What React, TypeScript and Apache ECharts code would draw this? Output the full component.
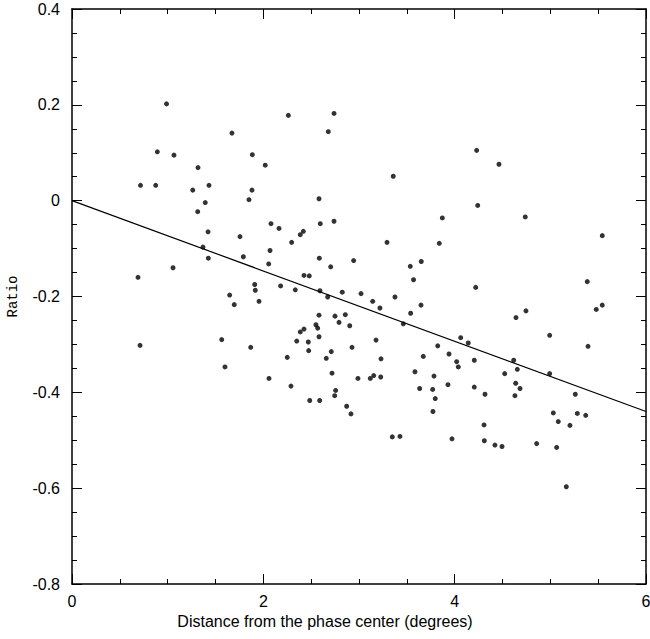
import React, { useEffect, useRef } from "react";
import * as echarts from "echarts";

const distances: number[] = [
  0.988, 1.672, 0.892, 1.066, 1.885, 1.317, 0.716, 0.875, 1.262, 1.432,
  1.881, 1.393, 1.85, 1.314, 1.422, 1.756, 1.369, 1.425, 1.791, 1.056,
  0.69, 1.91, 1.916, 1.648, 1.696, 1.955, 1.565, 0.711, 1.868, 1.599,
  2.261, 2.739, 2.679, 2.02, 3.358, 2.582, 2.08, 2.164, 2.595, 2.739,
  2.386, 2.418, 2.296, 3.293, 2.07, 2.056, 2.585, 2.704, 2.944, 2.425,
  2.48, 4.23, 4.463, 4.241, 3.871, 4.738, 3.839, 5.543, 3.651, 3.536,
  3.57, 2.181, 2.334, 2.592, 2.673, 2.825, 3.021, 3.143, 3.219, 3.376,
  3.54, 3.648, 3.463, 2.582, 2.749, 2.857, 2.791, 2.903, 2.425, 2.386,
  2.55, 2.568, 2.582, 2.47, 2.349, 2.474, 2.71, 2.25, 2.658, 2.927,
  3.178, 3.23, 3.823, 3.672, 2.718, 2.059, 2.289, 2.989, 3.118, 3.154,
  3.227, 3.585, 3.784, 3.634, 3.77, 3.797, 3.773, 2.756, 2.746, 2.485,
  2.589, 2.871, 2.916, 3.348, 3.428, 4.22, 5.386, 5.48, 5.543, 4.641,
  4.745, 4.993, 5.394, 4.063, 4.142, 3.941, 4.021, 4.038, 4.205, 4.617,
  4.655, 4.523, 4.993, 3.93, 4.205, 4.317, 4.638, 4.683, 4.63, 5.261,
  5.031, 5.282, 5.37, 5.083, 5.205, 4.307, 3.972, 4.31, 4.421, 4.495,
  4.857, 5.066, 5.167,
];

const ratios: number[] = [
  0.202, 0.141, 0.102, 0.095, 0.096, 0.069, 0.032, 0.032, 0.022, 0.032,
  0.022, -0.004, 0.002, -0.023, -0.065, -0.075, -0.097, -0.12, -0.117, -0.14,
  -0.16, -0.175, -0.187, -0.197, -0.217, -0.21, -0.29, -0.302, -0.306, -0.347,
  0.178, 0.182, 0.144, 0.074, 0.051, 0.004, -0.048, -0.058, -0.048, -0.043,
  -0.071, -0.064, -0.087, -0.087, -0.104, -0.132, -0.12, -0.138, -0.125, -0.156,
  -0.157, 0.105, 0.076, -0.01, -0.036, -0.034, -0.089, -0.073, -0.127, -0.137,
  -0.165, -0.178, -0.186, -0.188, -0.201, -0.191, -0.194, -0.21, -0.224, -0.201,
  -0.235, -0.218, -0.257, -0.239, -0.241, -0.238, -0.254, -0.261, -0.268, -0.274,
  -0.259, -0.266, -0.284, -0.295, -0.293, -0.313, -0.315, -0.327, -0.329, -0.306,
  -0.291, -0.33, -0.303, -0.325, -0.36, -0.371, -0.387, -0.371, -0.371, -0.365,
  -0.368, -0.357, -0.366, -0.392, -0.394, -0.413, -0.44, -0.396, -0.407, -0.417,
  -0.417, -0.429, -0.445, -0.493, -0.492, -0.181, -0.169, -0.227, -0.218, -0.244,
  -0.23, -0.281, -0.304, -0.286, -0.297, -0.32, -0.336, -0.347, -0.333, -0.333,
  -0.352, -0.361, -0.361, -0.384, -0.389, -0.404, -0.381, -0.392, -0.407, -0.404,
  -0.443, -0.444, -0.448, -0.461, -0.469, -0.468, -0.497, -0.501, -0.51, -0.513,
  -0.507, -0.515, -0.597,
];

const fitX: number[] = [0, 6];
const fitY: number[] = [0, -0.44];

const xTitle = "Distance from the phase center (degrees)";
const yTitle = "Ratio";

export default function App() {
  const ref = useRef<HTMLDivElement>(null);
  useEffect(() => {
    if (!ref.current) return;
    const chart = echarts.init(ref.current, undefined, { renderer: "svg" });
    const font = "'Liberation Sans', Arial, Helvetica, sans-serif";
    const lineStyle = { color: "#000", width: 1.5 };
    const baseX = {
      type: "value" as const,
      min: 0,
      max: 6,
      interval: 2,
      splitLine: { show: false },
      axisLine: { show: true, onZero: false, lineStyle },
      axisTick: { show: true, inside: true, length: 10, lineStyle: { color: "#000", width: 1 } },
      minorTick: { show: true, splitNumber: 4, length: 5, lineStyle: { color: "#000", width: 1 } },
    };
    const baseY = {
      type: "value" as const,
      min: -0.8,
      max: 0.4,
      interval: 0.2,
      splitLine: { show: false },
      axisLine: { show: true, onZero: false, lineStyle },
      axisTick: { show: true, inside: true, length: 10, lineStyle: { color: "#000", width: 1 } },
      minorTick: { show: true, splitNumber: 4, length: 5, lineStyle: { color: "#000", width: 1 } },
    };
    chart.setOption({
      animation: false,
      backgroundColor: "#fff",
      grid: {
        left: 72,
        right: 4,
        top: 9,
        bottom: 55,
        containLabel: false,
        outerBoundsMode: "none",
      },
      xAxis: [
        {
          ...baseX,
          position: "bottom",
          axisLabel: { show: true, color: "#000", fontSize: 16, fontFamily: font, margin: 9 },
        },
        {
          ...baseX,
          position: "top",
          axisLabel: { show: false },
        },
      ],
      yAxis: [
        {
          ...baseY,
          position: "left",
          name: yTitle,
          nameLocation: "middle",
          nameGap: 52,
          nameTextStyle: { color: "#000", fontSize: 14, fontFamily: "'Liberation Mono', 'Courier New', monospace" },
          axisLabel: {
            show: true,
            color: "#000",
            fontSize: 16,
            fontFamily: font,
            margin: 12,
            formatter: (v: number) => {
              const r = Math.round(v * 10) / 10;
              return r === 0 ? "0" : String(r);
            },
          },
        },
        {
          ...baseY,
          position: "right",
          axisLabel: { show: false },
        },
      ],
      graphic: [
        {
          type: "text",
          left: "center",
          top: 613,
          style: { text: xTitle, fill: "#000", fontSize: 16, fontFamily: font },
        },
      ],
      series: [
        {
          type: "scatter",
          xAxisIndex: 0,
          yAxisIndex: 0,
          symbol: "circle",
          symbolSize: 5,
          itemStyle: { color: "#000" },
          data: distances.map((d, i) => [d, ratios[i]]),
        },
        {
          type: "line",
          xAxisIndex: 0,
          yAxisIndex: 0,
          showSymbol: false,
          symbol: "none",
          lineStyle: { color: "#000", width: 1.2 },
          data: fitX.map((d, i) => [d, fitY[i]]),
        },
      ],
    });
    return () => chart.dispose();
  }, []);
  return (
    <div
      ref={ref}
      style={{ position: "fixed", left: 0, top: 0, width: 650, height: 639 }}
    />
  );
}
